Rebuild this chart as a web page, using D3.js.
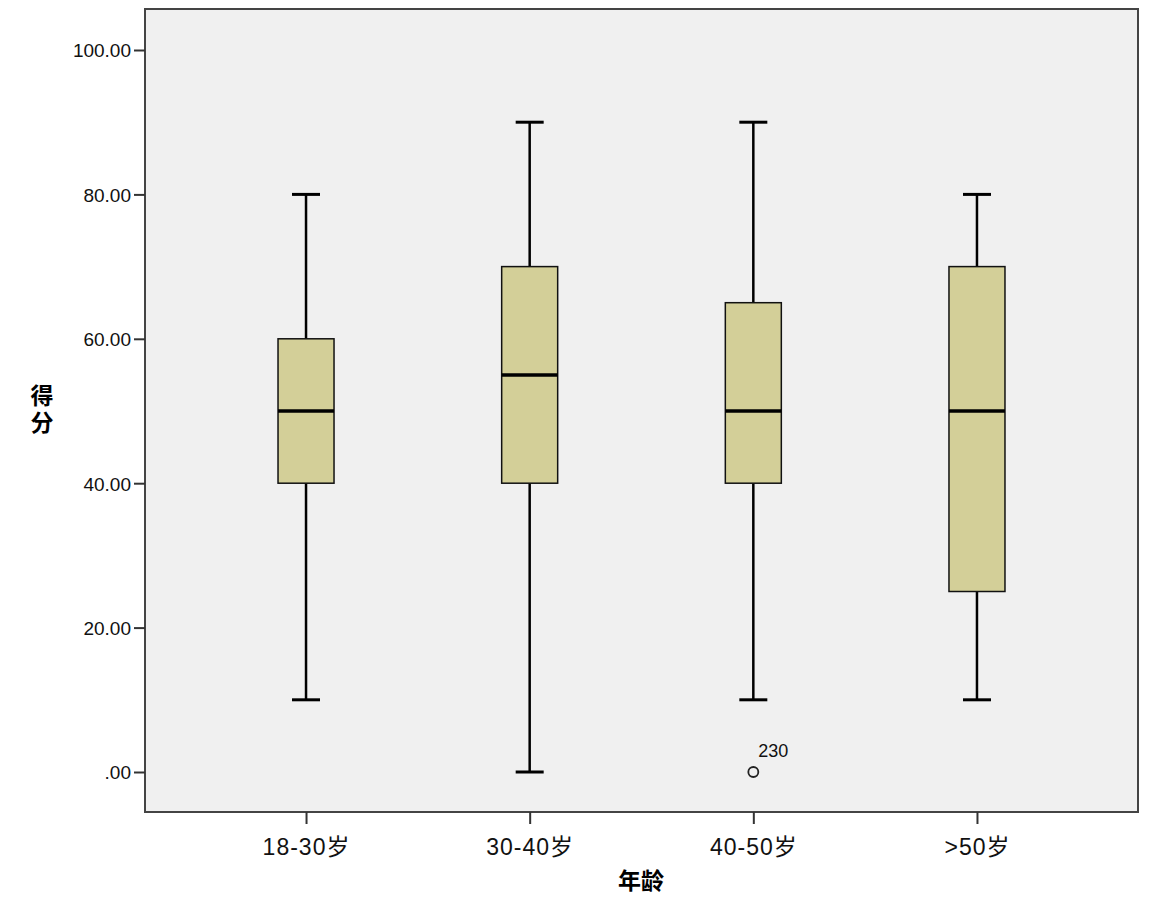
<!DOCTYPE html>
<html><head><meta charset="utf-8">
<script src="https://cdn.jsdelivr.net/npm/d3@7/dist/d3.min.js"></script>
<style>body{margin:0;background:#fff}svg{display:block}</style>
</head><body>
<svg id="c" width="1152" height="921"></svg>
<script>
const categories = ["18-30岁","30-40岁","40-50岁",">50岁"];
const mins    = [10, 0, 10, 10];
const q1s     = [40, 40, 40, 25];
const medians = [50, 55, 50, 50];
const q3s     = [60, 70, 65, 70];
const maxs    = [80, 90, 90, 80];
const outliers = [{cat:"40-50岁", value:0, label:"230"}];
const yTicks = [0,20,40,60,80,100];

const svg = d3.select("#c");
const L=145,R=1138,T=9,B=812;
const x = d3.scalePoint().domain(categories).range([L,R]).padding(0.72);
const y = d3.scaleLinear().domain([0,100]).range([772,50]);

svg.append("rect").attr("x",L).attr("y",T).attr("width",R-L).attr("height",B-T)
  .attr("fill","#f0f0f0").attr("stroke","#444").attr("stroke-width",2);

const yAxis = d3.axisLeft(y).tickValues(yTicks).tickSize(11).tickPadding(3)
  .tickFormat(d=> d===0 ? ".00" : d3.format(".2f")(d));
const gy = svg.append("g").attr("transform",`translate(${L},0)`).call(yAxis);
gy.select(".domain").remove();
gy.selectAll(".tick line").attr("stroke","#333").attr("stroke-width",2);
gy.selectAll(".tick text").attr("font-family","Liberation Sans, Arial, sans-serif").attr("font-size",19).attr("fill","#111").attr("dy","0.36em");

const xAxis = d3.axisBottom(x).tickSize(12).tickPadding(15);
const gx = svg.append("g").attr("transform",`translate(0,${B})`).call(xAxis);
gx.select(".domain").remove();
gx.selectAll(".tick line").attr("stroke","#333").attr("stroke-width",2);
gx.selectAll(".tick text").attr("font-family","Liberation Sans, 'Noto Sans CJK SC', sans-serif").attr("font-size",23).attr("fill","#111").attr("letter-spacing","1px");

const data = categories.map((c,i)=>({c,min:mins[i],q1:q1s[i],med:medians[i],q3:q3s[i],max:maxs[i]}));
const bw=56, cw=28;
const g = svg.append("g");
data.forEach(d=>{
  const cx=x(d.c);
  g.append("line").attr("x1",cx).attr("x2",cx).attr("y1",y(d.max)).attr("y2",y(d.q3)).attr("stroke","#000").attr("stroke-width",2.5);
  g.append("line").attr("x1",cx).attr("x2",cx).attr("y1",y(d.q1)).attr("y2",y(d.min)).attr("stroke","#000").attr("stroke-width",2.5);
  g.append("line").attr("x1",cx-cw/2).attr("x2",cx+cw/2).attr("y1",y(d.max)).attr("y2",y(d.max)).attr("stroke","#000").attr("stroke-width",3);
  g.append("line").attr("x1",cx-cw/2).attr("x2",cx+cw/2).attr("y1",y(d.min)).attr("y2",y(d.min)).attr("stroke","#000").attr("stroke-width",3);
  g.append("rect").attr("x",cx-bw/2).attr("y",y(d.q3)).attr("width",bw).attr("height",y(d.q1)-y(d.q3))
    .attr("fill","#d3cf98").attr("stroke","#111").attr("stroke-width",1.5);
  g.append("line").attr("x1",cx-bw/2).attr("x2",cx+bw/2).attr("y1",y(d.med)).attr("y2",y(d.med)).attr("stroke","#000").attr("stroke-width",3.5);
});
outliers.forEach(o=>{
  g.append("circle").attr("cx",x(o.cat)).attr("cy",y(o.value)).attr("r",5).attr("fill","none").attr("stroke","#222").attr("stroke-width",1.8);
  g.append("text").attr("x",x(o.cat)+5).attr("y",y(o.value)-15).text(o.label)
    .attr("font-family","Liberation Sans, Arial, sans-serif").attr("font-size",18).attr("fill","#111");
});

const tf="'Noto Sans CJK SC', sans-serif";
svg.append("text").attr("x",42).attr("y",384).attr("writing-mode","vertical-rl")
  .attr("text-anchor","start").attr("font-family",tf).attr("font-weight","bold").attr("font-size",23)
  .attr("letter-spacing","4px").text("得分");
svg.append("text").attr("x",641).attr("y",889).attr("text-anchor","middle").attr("font-family",tf).attr("font-weight","bold").attr("font-size",23).text("年龄");
</script>
</body></html>
